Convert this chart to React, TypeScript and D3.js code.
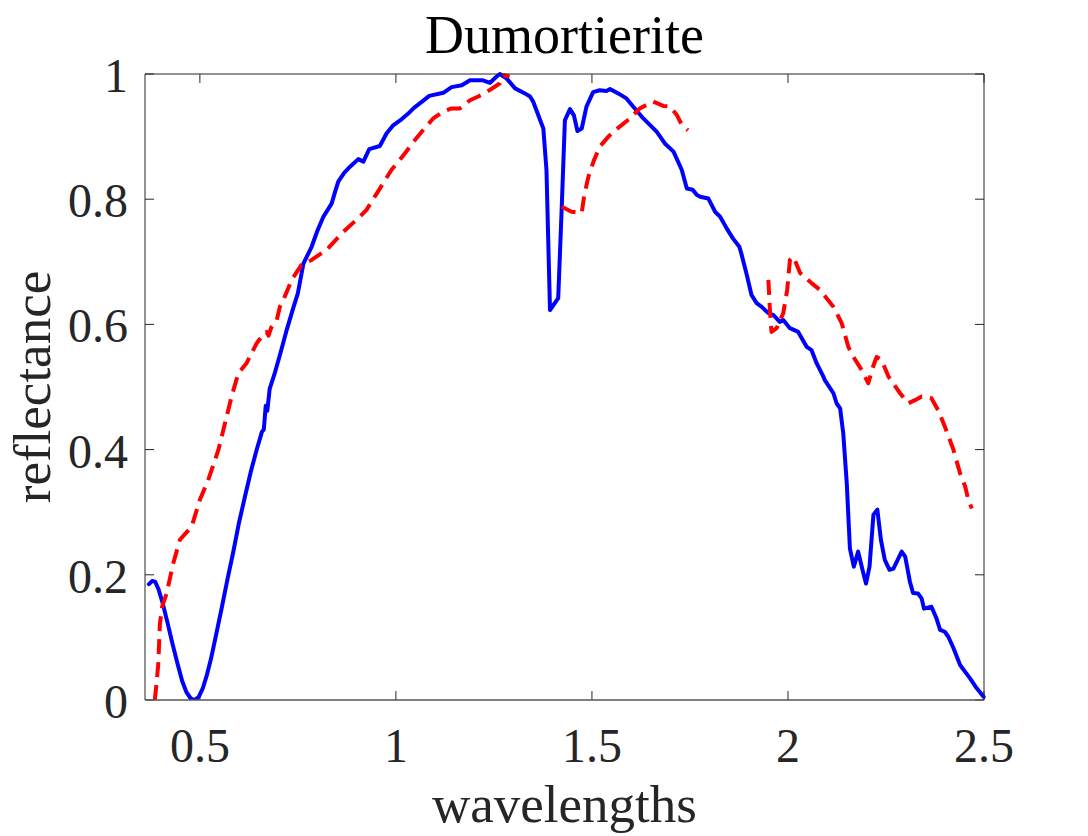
import React from "react";
import * as d3 from "d3";

const TITLE = "Dumortierite";
const X_LABEL = "wavelengths";
const Y_LABEL = "reflectance";
const X_TICKS = [0.5, 1, 1.5, 2, 2.5];
const Y_TICKS = [0, 0.2, 0.4, 0.6, 0.8, 1];

const blueX = [0.370,0.378,0.386,0.395,0.405,0.418,0.430,0.443,0.455,0.466,0.477,0.487,0.497,0.507,0.517,0.528,0.540,0.555,0.570,0.585,0.600,0.615,0.630,0.645,0.658,0.663,0.668,0.672,0.678,0.690,0.705,0.720,0.738,0.750,0.764,0.785,0.800,0.815,0.836,0.845,0.853,0.868,0.883,0.904,0.917,0.932,0.959,0.976,0.993,1.015,1.030,1.046,1.065,1.085,1.121,1.142,1.168,1.189,1.222,1.240,1.257,1.265,1.282,1.304,1.329,1.342,1.350,1.376,1.384,1.393,1.414,1.423,1.431,1.444,1.454,1.463,1.474,1.486,1.503,1.520,1.537,1.546,1.567,1.588,1.605,1.631,1.665,1.686,1.708,1.729,1.742,1.757,1.767,1.776,1.797,1.814,1.827,1.844,1.860,1.876,1.882,1.895,1.907,1.920,1.933,1.950,1.963,1.979,1.988,2.005,2.026,2.048,2.060,2.073,2.090,2.094,2.116,2.124,2.133,2.141,2.150,2.158,2.168,2.179,2.190,2.199,2.208,2.218,2.228,2.237,2.247,2.259,2.269,2.290,2.299,2.311,2.319,2.332,2.341,2.347,2.366,2.379,2.388,2.400,2.409,2.422,2.439,2.452,2.464,2.481,2.499];
const blueY = [0.185,0.190,0.189,0.176,0.155,0.122,0.090,0.058,0.030,0.012,0.002,0.000,0.005,0.018,0.038,0.065,0.100,0.145,0.192,0.236,0.284,0.325,0.365,0.400,0.428,0.432,0.470,0.462,0.497,0.520,0.553,0.588,0.626,0.650,0.697,0.724,0.750,0.772,0.793,0.812,0.828,0.842,0.852,0.864,0.860,0.880,0.885,0.905,0.918,0.928,0.936,0.946,0.955,0.965,0.970,0.979,0.982,0.990,0.990,0.986,0.996,1.000,0.993,0.977,0.969,0.964,0.956,0.913,0.847,0.623,0.642,0.788,0.926,0.944,0.934,0.909,0.913,0.948,0.971,0.974,0.973,0.976,0.969,0.961,0.948,0.929,0.908,0.889,0.876,0.847,0.817,0.815,0.807,0.804,0.801,0.780,0.772,0.753,0.737,0.724,0.711,0.679,0.647,0.634,0.628,0.618,0.615,0.604,0.607,0.594,0.588,0.564,0.559,0.538,0.517,0.511,0.490,0.474,0.466,0.426,0.346,0.242,0.213,0.237,0.208,0.186,0.213,0.296,0.304,0.256,0.224,0.208,0.210,0.237,0.229,0.189,0.171,0.170,0.162,0.146,0.149,0.130,0.112,0.109,0.101,0.083,0.056,0.045,0.035,0.019,0.005];

// NaN marks gaps in the dashed series
const redX = [0.385,0.390,0.394,0.398,0.404,0.415,0.432,0.449,0.479,0.500,0.521,0.547,0.564,0.581,0.598,0.619,0.645,0.657,0.670,0.675,0.682,0.696,0.704,0.713,0.734,0.759,0.785,0.823,0.866,0.908,0.925,0.951,0.989,1.019,1.049,1.070,1.095,1.121,1.142,1.163,1.189,1.210,1.231,1.253,1.265,1.275,1.290,NaN,1.423,1.448,1.474,1.480,1.491,1.505,1.520,1.542,1.571,1.597,1.622,1.656,1.682,1.699,1.716,1.729,1.745,NaN,1.950,1.954,1.958,1.971,1.988,1.998,2.005,2.014,2.031,2.060,2.082,2.116,2.137,2.154,2.167,2.188,2.205,2.214,2.226,2.239,2.256,2.286,2.307,2.324,2.341,2.366,2.383,2.400,2.422,2.439,2.452,2.460,2.469];
const redY = [0.000,0.030,0.059,0.122,0.150,0.170,0.218,0.256,0.277,0.320,0.351,0.399,0.442,0.485,0.522,0.538,0.570,0.580,0.588,0.582,0.595,0.607,0.628,0.639,0.671,0.695,0.703,0.719,0.748,0.772,0.783,0.809,0.847,0.870,0.895,0.911,0.929,0.940,0.945,0.945,0.958,0.964,0.971,0.980,0.985,0.998,0.996,NaN,0.788,0.780,0.778,0.805,0.836,0.862,0.884,0.900,0.916,0.929,0.945,0.956,0.949,0.948,0.935,0.919,0.910,NaN,0.671,0.623,0.588,0.594,0.618,0.655,0.703,0.708,0.682,0.666,0.655,0.628,0.602,0.564,0.548,0.527,0.506,0.527,0.548,0.543,0.517,0.490,0.474,0.479,0.485,0.482,0.463,0.437,0.400,0.362,0.341,0.320,0.306];

const W = 1088, H = 836;
const L = 145, R = 984, T = 74, B = 700;
const AX = "#262626";
const FONT = "'Liberation Serif', 'Times New Roman', serif";

export default function App() {
  const x = d3.scaleLinear().domain([0.36, 2.5]).range([L, R]);
  const y = d3.scaleLinear().domain([0, 1]).range([B, T]);
  const blue = blueX.map((v, i) => [v, blueY[i]] as [number, number]);
  const red = redX.map((v, i) => [v, redY[i]] as [number, number]);
  const line = d3.line<[number, number]>()
    .defined(d => !isNaN(d[0]) && !isNaN(d[1]))
    .x(d => x(d[0]))
    .y(d => y(d[1]));
  const tl = 9;
  return (
    <svg width={W} height={H} style={{ position: "absolute", left: 0, top: 0, background: "#fff" }}>
      <rect x={0} y={0} width={W} height={H} fill="#fff" />
      <defs>
        <clipPath id="plot"><rect x={L} y={T - 3} width={R - L + 3} height={B - T + 3} /></clipPath>
      </defs>
      {X_TICKS.map(t => (
        <g key={"x" + t}>
          <line x1={x(t)} x2={x(t)} y1={B} y2={B - tl} stroke={AX} strokeWidth={1} />
          <line x1={x(t)} x2={x(t)} y1={T} y2={T + tl} stroke={AX} strokeWidth={1} />
          <text x={x(t)} y={762} textAnchor="middle" fontFamily={FONT} fontSize={48} fill={AX}>{String(t)}</text>
        </g>
      ))}
      {Y_TICKS.map(t => (
        <g key={"y" + t}>
          <line x1={L} x2={L + tl} y1={y(t)} y2={y(t)} stroke={AX} strokeWidth={1} />
          <line x1={R} x2={R - tl} y1={y(t)} y2={y(t)} stroke={AX} strokeWidth={1} />
          <text x={128} y={y(t) + 18} textAnchor="end" fontFamily={FONT} fontSize={48} fill={AX}>{String(t)}</text>
        </g>
      ))}
      <g clipPath="url(#plot)">
        <path d={line(blue) || ""} fill="none" stroke="#0000ff" strokeWidth={4} strokeLinejoin="round" strokeLinecap="round" />
        <path d={line(red) || ""} fill="none" stroke="#ff0000" strokeWidth={4} strokeDasharray="15 8" strokeLinejoin="round" />
      </g>
      <line x1={L} x2={L} y1={T} y2={B} stroke={AX} strokeWidth={1} />
      <line x1={R} x2={R} y1={T} y2={B} stroke={AX} strokeWidth={1} />
      <line x1={L} x2={R} y1={T} y2={T} stroke={AX} strokeWidth={1} />
      <line x1={L} x2={R} y1={B} y2={B} stroke="#555" strokeWidth={1.5} />
      <text x={(L + R) / 2} y={53} textAnchor="middle" fontFamily={FONT} fontSize={54} fill="#000">{TITLE}</text>
      <text x={(L + R) / 2} y={822} textAnchor="middle" fontFamily={FONT} fontSize={53} fill={AX}>{X_LABEL}</text>
      <text transform={`translate(50, ${(T + B) / 2}) rotate(-90)`} textAnchor="middle" fontFamily={FONT} fontSize={53} fill={AX}>{Y_LABEL}</text>
    </svg>
  );
}
